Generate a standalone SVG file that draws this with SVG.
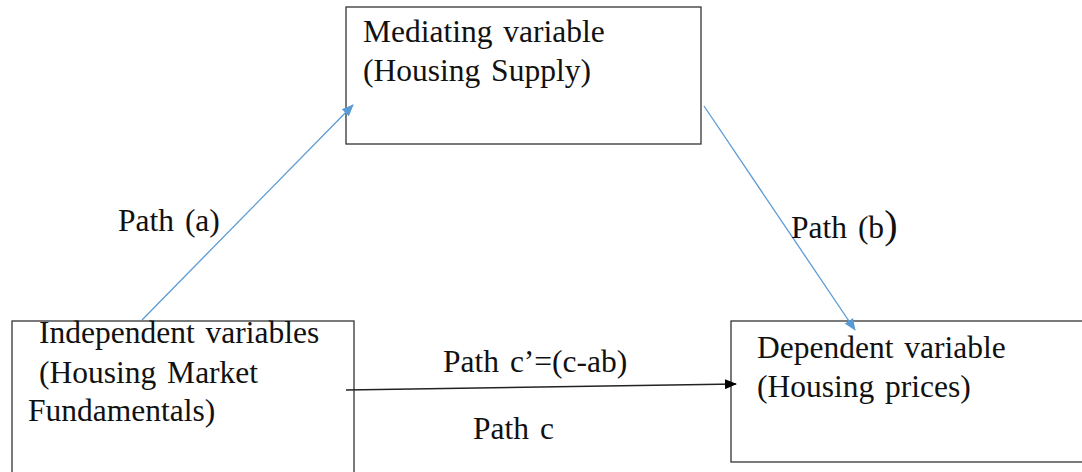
<svg xmlns="http://www.w3.org/2000/svg" width="1082" height="472" viewBox="0 0 1082 472">
<style>
.box{fill:#fff;stroke:#333;stroke-width:1.3}
.t{font-family:"Liberation Serif","Times New Roman",serif;font-size:31.5px;fill:#111;word-spacing:3px}
.blue{stroke:#5B9BD5;stroke-width:1.3;fill:none}
.blk{stroke:#222;stroke-width:1.3;fill:none}
</style>
<defs>
<marker id="ab" viewBox="0 0 12 10" refX="11" refY="5" markerWidth="12" markerHeight="10" markerUnits="userSpaceOnUse" orient="auto"><path d="M0,0 L12,5 L0,10 Z" fill="#5B9BD5"/></marker>
<marker id="ak" viewBox="0 0 12 10" refX="11" refY="5" markerWidth="12" markerHeight="10" markerUnits="userSpaceOnUse" orient="auto"><path d="M0,0 L12,5 L0,10 Z" fill="#000"/></marker>
</defs>
<rect width="1082" height="472" fill="#fff"/>
<g id="mediating">
<rect class="box" x="346" y="7" width="355" height="137"/>
<text class="t" x="363" y="42">Mediating variable</text>
<text class="t" x="363" y="81">(Housing Supply)</text>
</g>
<g id="independent">
<rect class="box" x="12" y="321" width="342" height="160"/>
<text class="t" x="39" y="343">Independent variables</text>
<text class="t" x="39" y="383">(Housing Market</text>
<text class="t" x="28" y="421">Fundamentals)</text>
</g>
<g id="dependent">
<rect class="box" x="731" y="321" width="360" height="141"/>
<text class="t" x="757" y="358">Dependent variable</text>
<text class="t" x="757" y="397">(Housing prices)</text>
</g>
<g id="connectors">
<line class="blue" x1="142" y1="320" x2="353" y2="105" marker-end="url(#ab)"/>
<line class="blue" x1="704" y1="106" x2="855" y2="330" marker-end="url(#ab)"/>
<line class="blk" x1="346" y1="390" x2="736" y2="384" marker-end="url(#ak)"/>
</g>
<g id="labels">
<text class="t" x="118" y="231">Path (a)</text>
<text class="t" x="791" y="238">Path (b<tspan font-size="40">)</tspan></text>
<text class="t" x="443" y="372" word-spacing="0">Path c’=(c-ab)</text>
<text class="t" x="473" y="439">Path c</text>
</g>
</svg>
